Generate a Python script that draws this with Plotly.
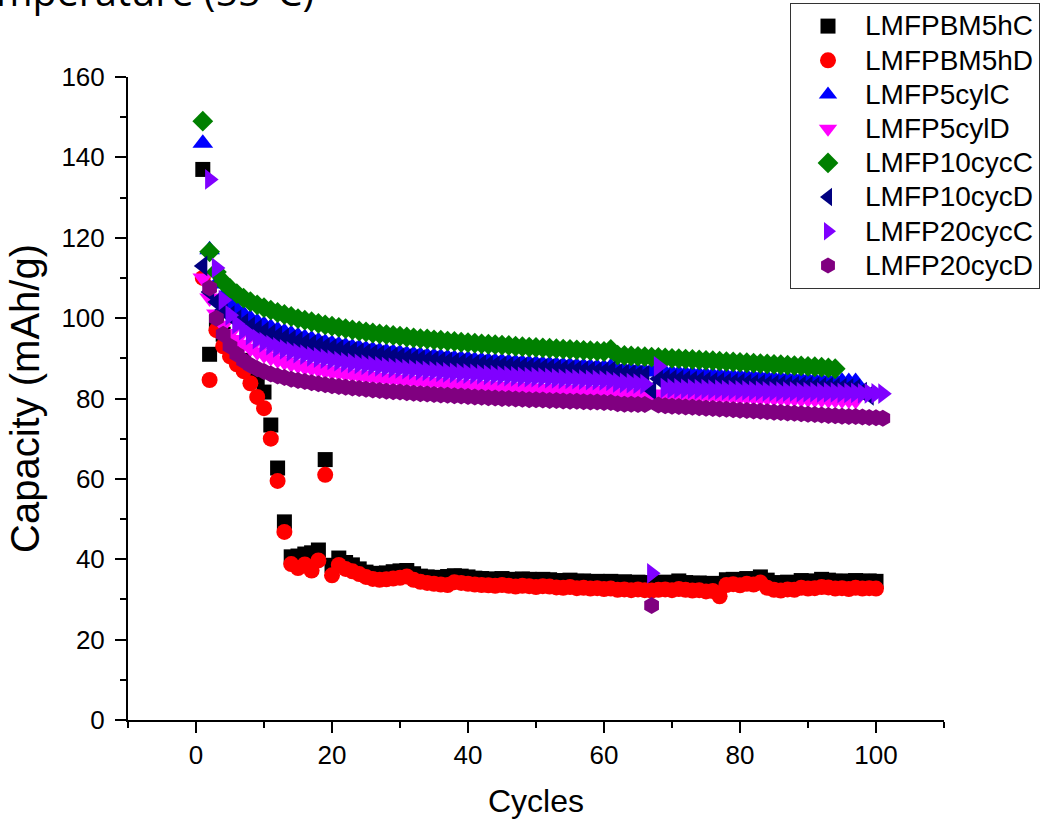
import plotly.graph_objects as go

# ---------------- data ----------------
cycles_5hC = list(range(1, 101))
cap_5hC = [137, 91, 99, 96, 93.5, 91.5, 89.5, 87.5, 85, 81.6,
           73.4, 62.7, 49.3, 40.6, 40.8, 41.3, 41.6, 42.3, 64.8, 38.5,
           40.3, 39.2, 38.6, 37.6, 36.8, 36.5, 36.4, 36.6, 36.9, 37.1,
           37.2, 36.4, 35.8, 35.6, 35.5, 35.4, 35.7, 35.9, 35.8, 35.6,
           35.3, 35.2, 35.1, 35.0, 35.2, 35.0, 34.9, 35.1, 35.0, 34.8,
           35.0, 34.9, 34.7, 34.6, 34.8, 34.5, 34.6, 34.4, 34.5, 34.3,
           34.5, 34.2, 34.4, 34.1, 34.3, 34.2, 34.0, 34.2, 34.3, 34.1,
           34.6, 34.2, 34.0, 34.1, 33.9, 34.0, 33.8, 34.9, 35.0, 34.9,
           35.2, 35.0, 35.6, 34.8, 34.2, 34.0, 34.3, 34.2, 34.7, 34.5,
           34.6, 35.0, 34.8, 34.5, 34.6, 34.4, 34.7, 34.5, 34.6, 34.5]

cycles_5hD = list(range(1, 101))
cap_5hD = [110, 84.6, 97, 93, 90.5, 88.5, 86.8, 83.8, 80.4, 77.6,
           70.0, 59.5, 46.8, 38.8, 37.8, 38.7, 37.2, 39.7, 61.0, 36.0,
           38.6, 37.6, 37.0, 36.3, 35.6, 35.1, 34.9, 35.0, 35.2, 35.4,
           35.7, 34.9, 34.4, 34.1, 33.9, 33.7, 33.6, 34.3, 34.1, 33.9,
           33.7, 33.6, 33.5, 33.4, 33.6, 33.4, 33.2, 33.4, 33.3, 33.1,
           33.3, 33.2, 33.0, 32.9, 33.1, 32.8, 32.9, 32.7, 32.8, 32.6,
           32.7, 32.4, 32.5, 32.3, 32.5, 32.3, 32.2, 32.4, 32.5, 32.3,
           32.6, 32.4, 32.2, 32.3, 32.0, 32.1, 30.8, 33.6, 33.8, 33.5,
           33.9, 33.7, 34.2, 32.9, 32.4, 32.2, 32.5, 32.4, 32.9, 32.7,
           32.8, 33.1, 33.0, 32.7, 32.8, 32.6, 32.9, 32.7, 32.8, 32.7]

cycles_5cylC = list(range(1, 98))
cap_5cylC = [143.5, 117, 108.5, 105.5, 103.6, 102.2, 101.0, 100.0, 99.1, 98.4,
             97.7, 97.1, 96.6, 96.1, 95.6, 95.2, 94.8, 94.4, 94.0, 93.7,
             93.4, 93.1, 92.8, 92.6, 92.3, 92.1, 91.9, 91.7, 91.5, 91.3,
             91.1, 91.0, 90.8, 90.6, 90.5, 90.3, 90.2, 90.0, 89.9, 89.8,
             89.6, 89.5, 89.4, 89.3, 89.2, 89.1, 89.0, 88.9, 88.8, 88.7,
             88.6, 88.5, 88.4, 88.3, 88.2, 88.1, 88.0, 87.9, 87.8, 87.7,
             87.9, 87.2, 87.1, 87.0, 86.9, 86.8, 86.7, 86.6, 86.5, 86.4,
             86.3, 86.2, 86.1, 86.0, 85.9, 85.8, 85.7, 85.6, 85.5, 85.4,
             85.4, 85.3, 85.2, 85.1, 85.0, 84.9, 84.9, 84.8, 84.7, 84.6,
             84.6, 84.5, 84.4, 84.4, 84.3, 84.2, 84.2]

cycles_5cylD = list(range(1, 98))
cap_5cylD = [110, 105, 101, 98.2, 96.2, 94.7, 93.5, 92.5, 91.6, 90.9,
             90.2, 89.6, 89.1, 88.6, 88.2, 87.8, 87.5, 87.2, 86.9, 86.6,
             86.4, 86.1, 85.9, 85.7, 85.5, 85.3, 85.1, 85.0, 84.8, 84.7,
             84.5, 84.4, 84.2, 84.1, 84.0, 83.9, 83.7, 83.6, 83.5, 83.4,
             83.3, 83.2, 83.1, 83.0, 82.9, 82.8, 82.8, 82.7, 82.6, 82.5,
             82.4, 82.4, 82.3, 82.2, 82.2, 82.1, 82.0, 82.0, 81.9, 81.8,
             82.0, 81.4, 81.3, 81.3, 81.2, 81.1, 81.1, 81.0, 81.0, 80.9,
             80.9, 80.8, 80.7, 80.7, 80.6, 80.6, 80.5, 80.5, 80.4, 80.4,
             80.3, 80.3, 80.2, 80.2, 80.1, 80.1, 80.0, 80.0, 79.9, 79.9,
             79.8, 79.8, 79.7, 79.7, 79.6, 79.6, 79.5]

cycles_10cycC = list(range(1, 95))
cap_10cycC = [149, 116.5, 111.5, 109, 107.4, 106.1, 105.0, 104.1, 103.3, 102.6,
              102.0, 101.4, 100.9, 100.4, 99.9, 99.5, 99.1, 98.7, 98.3, 98.0,
              97.7, 97.4, 97.1, 96.8, 96.6, 96.3, 96.1, 95.9, 95.7, 95.5,
              95.3, 95.1, 94.9, 94.8, 94.6, 94.5, 94.3, 94.2, 94.0, 93.9,
              93.8, 93.6, 93.5, 93.4, 93.3, 93.2, 93.0, 92.9, 92.8, 92.7,
              92.6, 92.5, 92.4, 92.3, 92.2, 92.1, 92.0, 91.9, 91.8, 91.7,
              92.2, 90.8, 90.7, 90.6, 90.5, 90.4, 90.3, 90.2, 90.1, 90.0,
              89.9, 89.8, 89.7, 89.6, 89.5, 89.4, 89.3, 89.2, 89.1, 89.0,
              88.9, 88.8, 88.7, 88.6, 88.5, 88.4, 88.3, 88.2, 88.1, 88.0,
              87.9, 87.8, 87.6, 87.4]

cycles_10cycD = list(range(1, 100))
cap_10cycD = [113, 106.5, 104, 102, 100.6, 99.6, 98.7, 97.9, 97.2, 96.6,
              96.0, 95.5, 95.0, 94.6, 94.2, 93.8, 93.4, 93.1, 92.8, 92.5,
              92.2, 91.9, 91.7, 91.4, 91.2, 91.0, 90.8, 90.6, 90.4, 90.2,
              90.0, 89.8, 89.7, 89.5, 89.4, 89.2, 89.1, 88.9, 88.8, 88.7,
              88.5, 88.4, 88.3, 88.2, 88.1, 88.0, 87.9, 87.8, 87.7, 87.6,
              87.5, 87.4, 87.3, 87.2, 87.1, 87.0, 86.9, 86.8, 86.7, 86.6,
              86.8, 86.2, 86.1, 86.0, 85.9, 85.8, 82.1, 84.9, 84.8, 84.7,
              84.6, 84.5, 84.4, 84.3, 84.2, 84.1, 84.0, 83.9, 83.8, 83.8,
              83.7, 83.6, 83.5, 83.4, 83.4, 83.3, 83.2, 83.1, 83.1, 83.0,
              82.9, 82.8, 82.8, 82.7, 82.6, 82.5, 82.4, 81.6, 80.8]

cycles_20cycC = list(range(2, 102))
cap_20cycC = [134.5, 112.5, 104.5, 100.7, 98.5, 97.0, 95.8, 94.8, 94.0,
              93.3, 92.7, 92.2, 91.7, 91.3, 90.9, 90.5, 90.2, 89.9, 89.6,
              89.3, 89.0, 88.8, 88.6, 88.4, 88.2, 88.0, 87.8, 87.6, 87.5,
              87.3, 87.2, 87.0, 86.9, 86.8, 86.6, 86.5, 86.4, 86.3, 86.2,
              86.1, 86.0, 85.9, 85.8, 85.7, 85.6, 85.5, 85.4, 85.3, 85.3,
              85.2, 85.1, 85.0, 84.9, 84.9, 84.8, 84.7, 84.6, 84.6, 84.5,
              84.4, 84.0, 83.9, 83.8, 83.7, 83.6, 36.5, 88.0, 82.6, 82.5,
              82.5, 82.4, 82.4, 82.3, 82.3, 82.2, 82.2, 82.1, 82.1, 82.0,
              82.0, 81.9, 81.9, 81.8, 81.8, 81.7, 81.7, 81.7, 81.6, 81.6,
              81.6, 81.5, 81.5, 81.5, 81.4, 81.4, 81.4, 81.3, 81.3, 81.3,
              81.2]

cycles_20cycD = list(range(2, 102))
cap_20cycD = [107.5, 100.0, 96.0, 93.0, 91.0, 89.4, 88.3, 87.4, 86.7,
              86.1, 85.6, 85.2, 84.8, 84.5, 84.2, 83.9, 83.7, 83.4, 83.2,
              83.0, 82.8, 82.6, 82.5, 82.3, 82.1, 82.0, 81.8, 81.7, 81.6,
              81.4, 81.3, 81.2, 81.1, 81.0, 80.9, 80.8, 80.7, 80.6, 80.5,
              80.4, 80.3, 80.2, 80.1, 80.0, 80.0, 79.9, 79.8, 79.7, 79.7,
              79.6, 79.5, 79.5, 79.4, 79.3, 79.3, 79.2, 79.1, 79.1, 79.0,
              79.0, 78.7, 78.6, 78.6, 78.5, 78.5, 28.5, 78.4, 78.2, 78.1,
              78.0, 77.9, 77.8, 77.7, 77.6, 77.5, 77.4, 77.3, 77.2, 77.1,
              77.0, 76.9, 76.8, 76.7, 76.6, 76.5, 76.4, 76.3, 76.2, 76.1,
              76.0, 75.9, 75.8, 75.7, 75.6, 75.5, 75.5, 75.4, 75.3, 75.2,
              75.1]

x_ticks = [0, 20, 40, 60, 80, 100]
y_ticks = [0, 20, 40, 60, 80, 100, 120, 140, 160]

series = [
    ("LMFPBM5hC", cycles_5hC, cap_5hC, "square", "#000000", 15),
    ("LMFPBM5hD", cycles_5hD, cap_5hD, "circle", "#FF0000", 16),
    ("LMFP5cylC", cycles_5cylC, cap_5cylC, "triangle-up", "#0000FF", 18),
    ("LMFP5cylD", cycles_5cylD, cap_5cylD, "triangle-down", "#FF00FF", 18),
    ("LMFP10cycC", cycles_10cycC, cap_10cycC, "diamond", "#008000", 16),
    ("LMFP10cycD", cycles_10cycD, cap_10cycD, "triangle-left", "#000080", 18),
    ("LMFP20cycC", cycles_20cycC, cap_20cycC, "triangle-right", "#8000FF", 18),
    ("LMFP20cycD", cycles_20cycD, cap_20cycD, "hexagon", "#800080", 17),
]

FONT = "Liberation Sans, Arial, sans-serif"

fig = go.Figure()
for name, xs, ys, sym, col, sz in series:
    fig.add_trace(go.Scatter(
        x=xs, y=ys, mode="markers",
        name='<span style="font-size:28px">' + name + "</span>",
        marker=dict(symbol=sym, color=col, size=sz, line=dict(width=0)),
    ))

axis_common = dict(
    showgrid=False, zeroline=False, showline=True, linecolor="black", linewidth=2,
    ticks="outside", ticklen=11, tickwidth=2, tickcolor="black",
    tickfont=dict(family=FONT, size=26, color="black"),
    minor=dict(ticks="outside", ticklen=6, tickwidth=2, tickcolor="black", dtick=10),
    automargin=False,
)

fig.update_layout(
    width=1048, height=819,
    paper_bgcolor="white", plot_bgcolor="white",
    margin=dict(l=128, r=104, t=77, b=99, autoexpand=False),
    font=dict(family=FONT, color="black"),
    xaxis=dict(range=[-10, 110], tickvals=x_ticks,
               title=dict(text="Cycles", font=dict(family=FONT, size=32, color="black"), standoff=20),
               **axis_common),
    yaxis=dict(range=[0, 160], tickvals=y_ticks, ticklabelstandoff=5,
               title=dict(text="Capacity (mAh/g)", font=dict(family=FONT, size=40, color="black"), standoff=9),
               **axis_common),
    legend=dict(
        x=(1040 - 128) / 816, y=(720 - 3) / 643, xanchor="right", yanchor="top",
        bgcolor="white", bordercolor="#333333", borderwidth=1,
        font=dict(family=FONT, size=24, color="black"),
        itemwidth=64,
    ),
    annotations=[dict(
        text="Temperature (55°C)", xref="paper", yref="paper",
        x=(316 - 128) / 816, y=(720 - 20) / 643, xanchor="right", yanchor="bottom",
        showarrow=False, font=dict(family="Open Sans, sans-serif", size=39.5, color="black"),
    )],
)

fig.write_html("out.html")
